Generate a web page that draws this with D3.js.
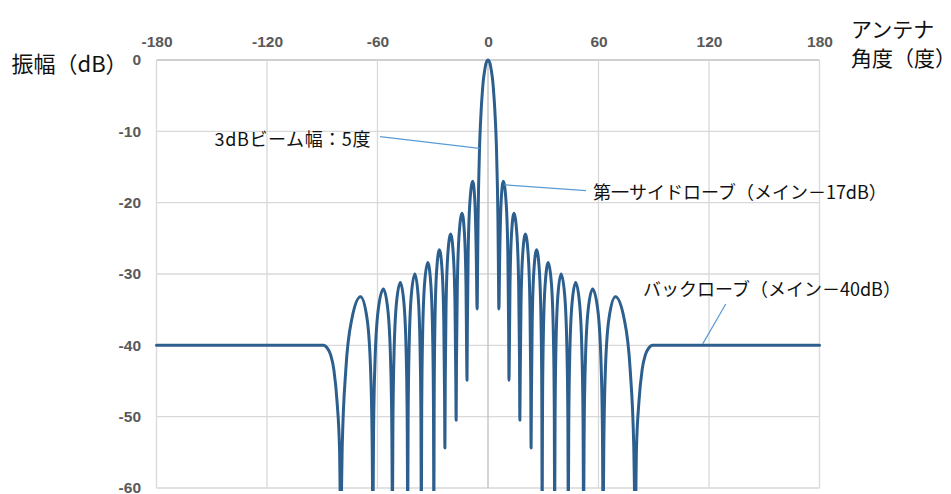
<!DOCTYPE html>
<html>
<head>
<meta charset="utf-8">
<script src="https://cdn.jsdelivr.net/npm/d3@7"></script>
<style>
  html, body { margin: 0; padding: 0; background: #fff; }
  svg { display: block; }
  .tick text { font-family: "Liberation Sans", Arial, sans-serif; font-weight: bold; font-size: 15.5px; fill: #595959; }
  .title, .note { font-family: "Noto Sans CJK JP", "Noto Sans", sans-serif; fill: #111; }
</style>
</head>
<body>
<svg id="chart" width="951" height="494"></svg>
<script>
// Antenna radiation pattern: angle (deg) vs. relative amplitude (dB)
const angleDeg = [
  -180, -89.2, -87.5, -85.5, -83.7, -81.9, -80.6, -80.0, -79.1, -77.2, -73.85, -69.2, -65.7, -63.75, -62.9,
  -62.5, -62.16, -61.36, -59.65, -56.8, -54.35, -52.88, -52.19, -51.9, -51.64, -51.04, -49.75, -47.6, -45.6,
  -44.4, -43.84, -43.6, -43.37, -42.82, -41.65, -39.7, -37.95, -36.9, -36.41, -36.2, -35.99, -35.5, -34.45,
  -32.7, -31.05, -30.06, -29.6, -29.4, -29.22, -28.8, -27.9, -26.4, -24.9, -24.0, -23.58, -23.4, -23.21,
  -22.78, -21.85, -20.3, -18.8, -17.9, -17.48, -17.3, -17.11, -16.66, -15.7, -14.1, -12.75, -11.94, -11.56,
  -11.4, -11.21, -10.78, -9.85, -8.3, -7.1, -6.38, -5.9, -5.65, -5.4, -5.1, -4.6, -4.1, -3.6, -3.1, -2.6,
  -2.0, -1.0,
  0,
  1.0, 2.0, 2.6, 3.1, 3.6, 4.1, 4.6, 5.1, 5.4, 5.65, 5.9, 6.38, 7.1, 8.3, 9.85, 10.78, 11.21, 11.4,
  11.56, 11.94, 12.75, 14.1, 15.7, 16.66, 17.11, 17.3, 17.48, 17.9, 18.8, 20.3, 21.85, 22.78, 23.21, 23.4,
  23.58, 24.0, 24.9, 26.4, 27.9, 28.8, 29.22, 29.4, 29.6, 30.06, 31.05, 32.7, 34.45, 35.5, 35.99, 36.2,
  36.41, 36.9, 37.95, 39.7, 41.65, 42.82, 43.37, 43.6, 43.84, 44.4, 45.6, 47.6, 49.75, 51.04, 51.64, 51.9,
  52.19, 52.88, 54.35, 56.8, 59.65, 61.36, 62.16, 62.5, 62.9, 63.75, 65.7, 69.2, 73.85, 77.2, 79.1, 80.0,
  80.6, 81.9, 83.7, 85.5, 87.5, 89.2, 180
];
const gainDb = [
  -40.0, -40.0, -40.3, -41.3, -43.4, -48.1, -54.7, -65, -53.7, -43.4, -36.2, -33.2, -36.2, -43.4, -53.7,
  -65, -52.6, -42.3, -35.1, -32.1, -35.1, -42.3, -52.6, -65, -51.7, -41.4, -34.2, -31.2, -34.2,
  -41.4, -51.7, -65, -50.5, -40.2, -33.0, -30.0, -33.0, -40.2, -50.5, -65, -48.9, -38.6, -31.4,
  -28.4, -31.4, -38.6, -48.9, -65, -47.1, -36.8, -29.6, -26.6, -29.6, -36.8, -47.1, -54.4, -44.9,
  -34.6, -27.4, -24.4, -27.4, -34.6, -44.9, -50.5, -42.0, -31.7, -24.5, -21.5, -24.5, -31.7, -42.0,
  -44.9, -37.5, -27.2, -20.0, -17.0, -20.0, -27.2, -34.9, -29.0, -22.5, -17.6, -12.4, -9.0, -6.5, -4.6, -3.0,
  -1.8, -0.4,
  0,
  -0.4, -1.8, -3.0, -4.6, -6.5, -9.0, -12.4, -17.6, -22.5, -29.0, -34.9, -27.2, -20.0, -17.0, -20.0, -27.2, -37.5, -44.9,
  -42.0, -31.7, -24.5, -21.5, -24.5, -31.7, -42.0, -50.5, -44.9, -34.6, -27.4, -24.4, -27.4, -34.6, -44.9, -54.4,
  -47.1, -36.8, -29.6, -26.6, -29.6, -36.8, -47.1, -65, -48.9, -38.6, -31.4, -28.4, -31.4, -38.6, -48.9, -65,
  -50.5, -40.2, -33.0, -30.0, -33.0, -40.2, -50.5, -65, -51.7, -41.4, -34.2, -31.2, -34.2, -41.4, -51.7, -65,
  -52.6, -42.3, -35.1, -32.1, -35.1, -42.3, -52.6, -65, -53.7, -43.4, -36.2, -33.2, -36.2, -43.4, -53.7, -65,
  -54.7, -48.1, -43.4, -41.3, -40.3, -40.0, -40.0
];

const xTicks = [-180, -120, -60, 0, 60, 120, 180];
const yTicks = [0, -10, -20, -30, -40, -50, -60];

const yTitle = "振幅（dB）";
const xTitleLines = ["アンテナ", "角度（度）"];

// Callouts: text anchor, leader start, leader end (all in data units)
const noteText = ["3dBビーム幅：5度", "第一サイドローブ（メイン－17dB）", "バックローブ（メイン－40dB）"];
const noteAnchor = ["end", "start", "start"];
const noteTextPos = [[-63.5, -12.0], [57.0, -19.5], [84.2, -33.1]];
const noteFrom = [[-58.6, -10.75], [53.2, -18.3], [129.1, -34.2]];
const noteTo = [[-4.6, -12.4], [8.9, -17.5], [116.6, -39.8]];

const svg = d3.select("#chart");
const plotL = 156.5, plotR = 819.5, plotT = 60, plotB = 488;

const x = d3.scaleLinear().domain([-180, 180]).range([plotL, plotR]);
const y = d3.scaleLinear().domain([-60, 0]).range([plotB, plotT]);

// grid
svg.append("g").selectAll("line").data(yTicks).join("line")
  .attr("x1", plotL).attr("x2", plotR)
  .attr("y1", d => y(d)).attr("y2", d => y(d))
  .attr("stroke", d => d === 0 ? "#bfbfbf" : "#d9d9d9").attr("stroke-width", 1.3);
svg.append("g").selectAll("line").data(xTicks).join("line")
  .attr("x1", d => x(d)).attr("x2", d => x(d))
  .attr("y1", plotT).attr("y2", plotB)
  .attr("stroke", d => d === 0 ? "#bfbfbf" : "#d9d9d9").attr("stroke-width", 1.3);

// axes (labels only)
const xAxis = svg.append("g").attr("transform", `translate(0,${plotT})`)
  .call(d3.axisTop(x).tickValues(xTicks).tickSize(0).tickPadding(13.5).tickFormat(d3.format("d")));
xAxis.select(".domain").remove();
const yAxis = svg.append("g").attr("transform", `translate(${plotL},0)`)
  .call(d3.axisLeft(y).tickValues(yTicks).tickSize(0).tickPadding(15.5).tickFormat(d3.format("d")));
yAxis.select(".domain").remove();
svg.selectAll(".tick text").text(d => d < 0 ? "-" + Math.abs(d) : String(d));

// pattern line
svg.append("clipPath").attr("id", "plotClip").append("rect")
  .attr("x", plotL - 2).attr("y", plotT - 4).attr("width", plotR - plotL + 4).attr("height", plotB - plotT + 7);

const pts = angleDeg.map((a, i) => [a, gainDb[i]]);
const line = d3.line().x(d => x(d[0])).y(d => y(d[1])).curve(d3.curveMonotoneX);
svg.append("path").attr("clip-path", "url(#plotClip)")
  .attr("d", line(pts))
  .attr("fill", "none").attr("stroke", "#2c5f8e").attr("stroke-width", 3)
  .attr("stroke-linejoin", "round").attr("stroke-linecap", "round");

// callouts
noteText.forEach((t, i) => {
  svg.append("line")
    .attr("x1", x(noteFrom[i][0])).attr("y1", y(noteFrom[i][1]))
    .attr("x2", x(noteTo[i][0])).attr("y2", y(noteTo[i][1]))
    .attr("stroke", "#5b9bd5").attr("stroke-width", 1.2);
  svg.append("text").attr("class", "note")
    .attr("x", x(noteTextPos[i][0])).attr("y", y(noteTextPos[i][1]))
    .attr("text-anchor", noteAnchor[i]).attr("font-size", 18)
    .attr("letter-spacing", i === 0 ? 0.6 : 0)
    .text(t);
});

// axis titles
svg.append("text").attr("class", "title").attr("x", 11.5).attr("y", 72)
  .attr("font-size", 22).text(yTitle);
svg.append("text").attr("class", "title").attr("font-size", 21)
  .selectAll("tspan").data(xTitleLines).join("tspan")
  .attr("x", 851).attr("y", (d, i) => 37 + i * 29).text(d => d);
</script>
</body>
</html>
